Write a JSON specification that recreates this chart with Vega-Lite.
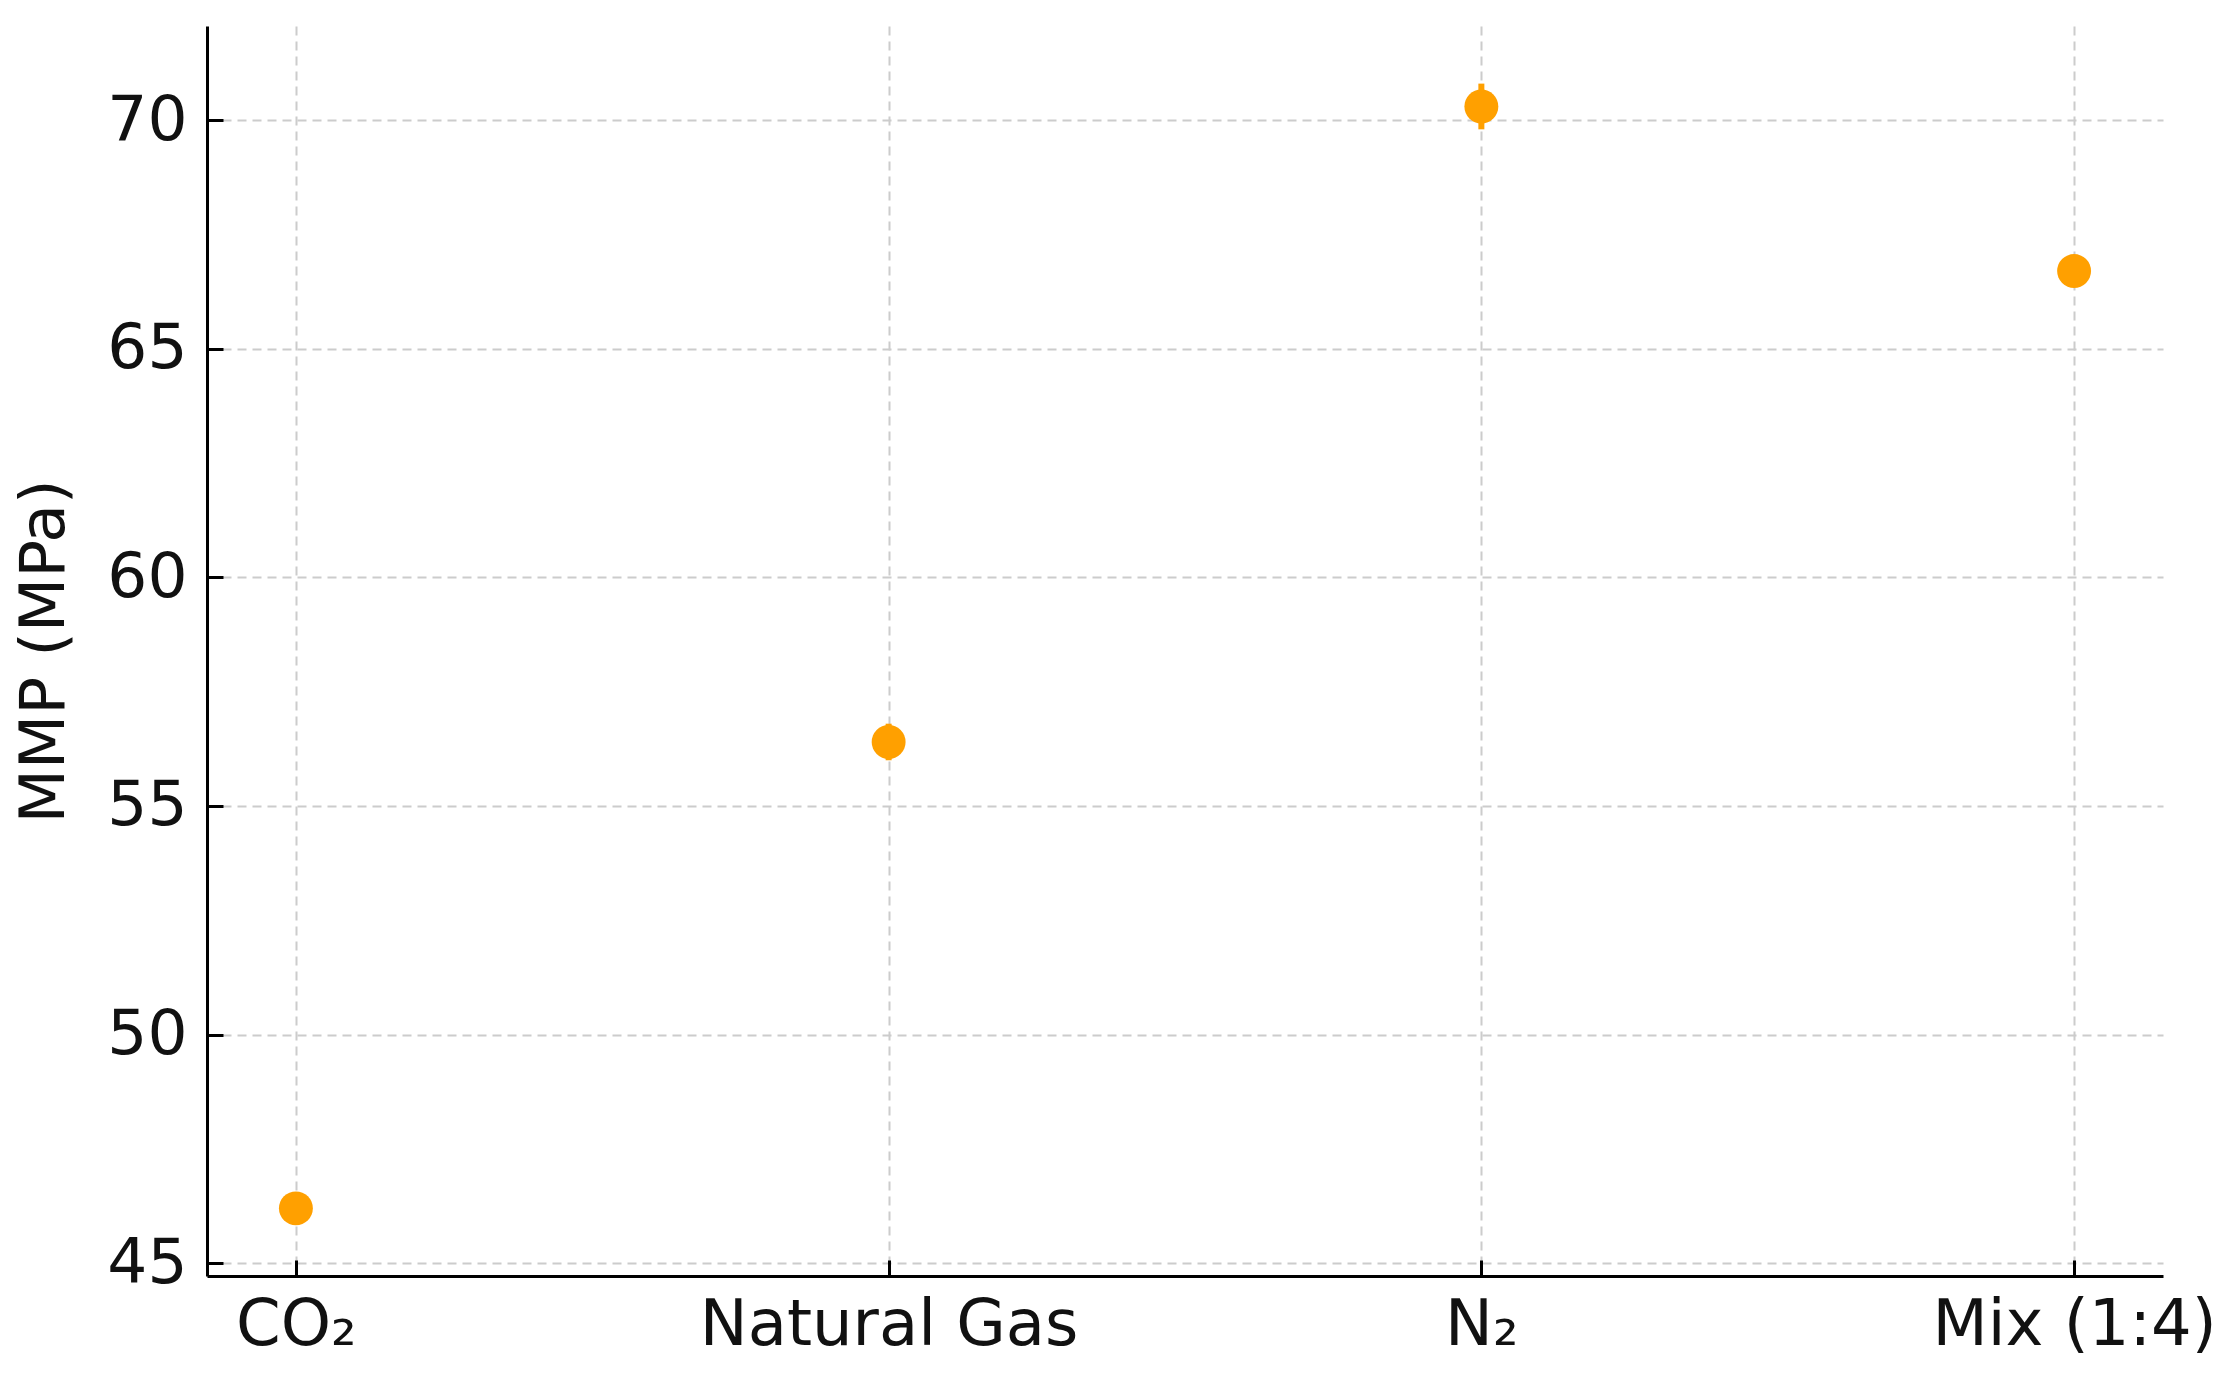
{
  "$schema": "https://vega.github.io/schema/vega-lite/v6.json",
  "width": 1956,
  "height": 1250,
  "autosize": {"type": "none"},
  "padding": {"left": 207, "top": 26, "right": 73, "bottom": 110},
  "background": "white",
  "config": {
    "view": {"stroke": null},
    "font": "DejaVu Sans",
    "axis": {
      "labelFont": "DejaVu Sans",
      "titleFont": "DejaVu Sans",
      "labelFontSize": 63,
      "titleFontSize": 63,
      "labelLimit": 0,
      "labelColor": "#111111",
      "titleColor": "#111111",
      "titleFontWeight": "normal",
      "domainColor": "#000000",
      "domainWidth": 3,
      "tickColor": "#000000",
      "tickWidth": 3,
      "tickSize": -16,
      "gridColor": "#cccccc",
      "gridWidth": 2,
      "gridDash": [9, 6]
    }
  },
  "data": {
    "values": [
      {"gas": "CO₂", "mmp": 46.2, "err": 0.2},
      {"gas": "Natural Gas", "mmp": 56.4, "err": 0.4},
      {"gas": "N₂", "mmp": 70.3, "err": 0.5},
      {"gas": "Mix (1:4)", "mmp": 66.7, "err": 0.3}
    ]
  },
  "transform": [
    {"calculate": "datum.mmp - datum.err", "as": "lo"},
    {"calculate": "datum.mmp + datum.err", "as": "hi"}
  ],
  "encoding": {
    "x": {
      "field": "gas",
      "type": "nominal",
      "sort": null,
      "scale": {"type": "point", "padding": 0.15},
      "axis": {"title": null, "labelAngle": 0, "labelPadding": 33, "labelFontSize": 64, "grid": true}
    }
  },
  "layer": [
    {
      "mark": {"type": "rule", "color": "#ffa000", "strokeWidth": 6},
      "encoding": {
        "y": {"field": "lo", "type": "quantitative"},
        "y2": {"field": "hi"}
      }
    },
    {
      "mark": {"type": "circle", "color": "#ffa000", "size": 1150, "opacity": 1},
      "encoding": {
        "y": {
          "field": "mmp",
          "type": "quantitative",
          "scale": {"domain": [44.72, 72.06], "nice": false, "zero": false},
          "axis": {
            "title": "MMP (MPa)",
            "values": [45, 50, 55, 60, 65, 70],
            "grid": true,
            "labelPadding": 36,
            "titlePadding": 30
          }
        }
      }
    }
  ]
}
